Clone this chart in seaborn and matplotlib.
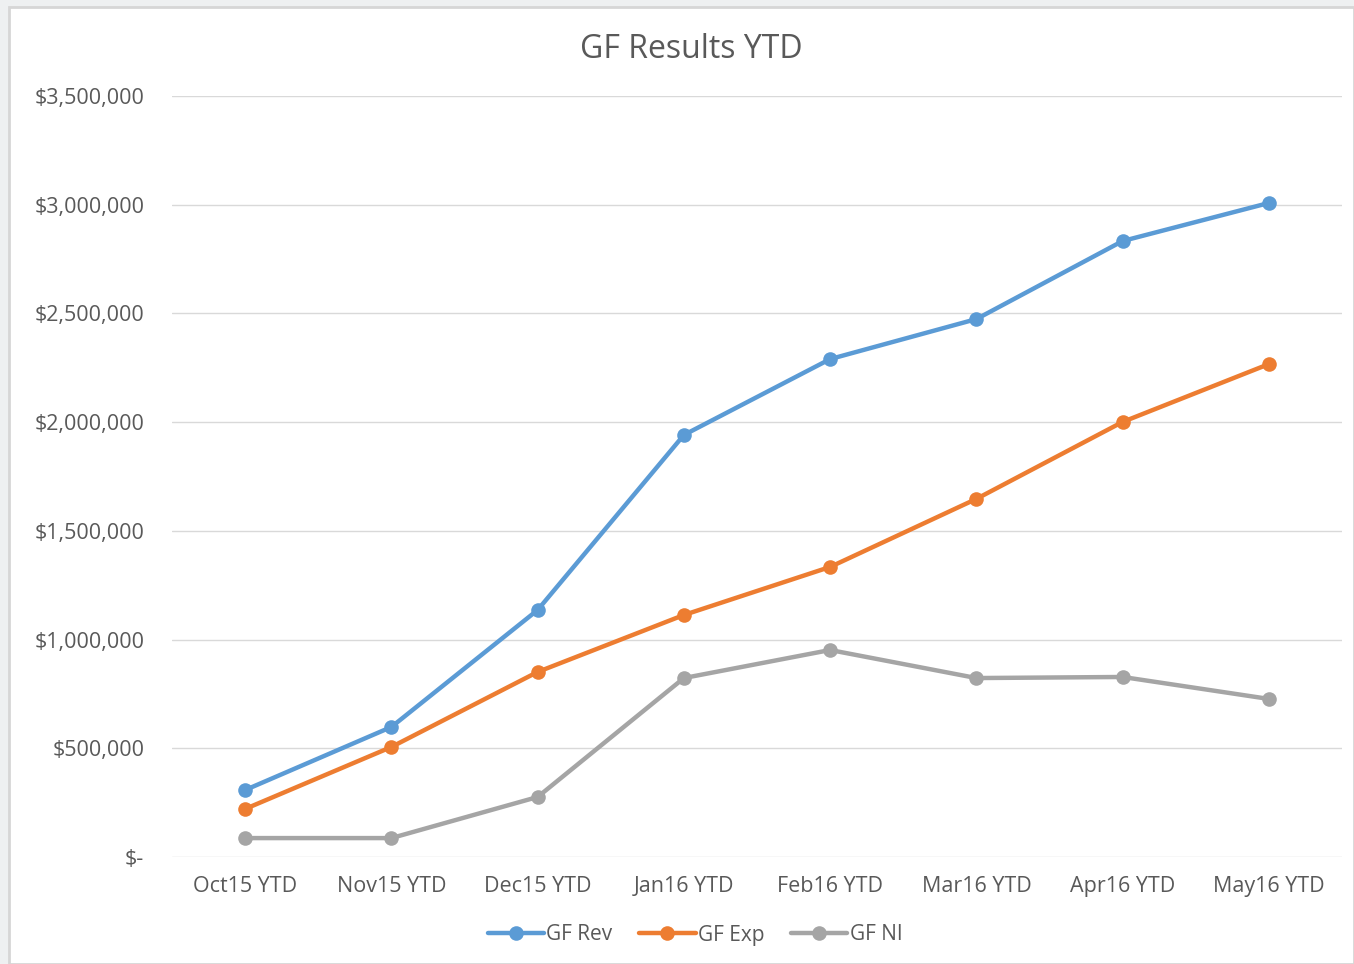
import matplotlib
matplotlib.use("Agg")
import matplotlib.pyplot as plt
import matplotlib.patches as mpatches
import matplotlib.ticker as mticker
import seaborn as sns
import pandas as pd

categories = ["Oct15 YTD", "Nov15 YTD", "Dec15 YTD", "Jan16 YTD",
              "Feb16 YTD", "Mar16 YTD", "Apr16 YTD", "May16 YTD"]
gf_rev = [308000, 598000, 1136000, 1941000, 2290000, 2474000, 2833000, 3008000]
gf_exp = [221000, 506000, 851000, 1113000, 1334000, 1647000, 2001000, 2267000]
gf_ni = [87000, 87000, 276000, 823000, 952000, 823000, 828000, 727000]
series_names = ["GF Rev", "GF Exp", "GF NI"]
colors = ["#5B9BD5", "#ED7D31", "#A5A5A5"]

rows = []
for name, vals in zip(series_names, [gf_rev, gf_exp, gf_ni]):
    for i, (c, v) in enumerate(zip(categories, vals)):
        rows.append({"x": i, "cat": c, "value": v, "series": name})
df = pd.DataFrame(rows)

sns.set_theme(style="white")
plt.rcParams["font.family"] = ["Open Sans", "DejaVu Sans"]
text_color = "#595959"

fig = plt.figure(figsize=(13.54, 9.64), dpi=100)
fig.patch.set_facecolor("#EEF0F1")
bg = mpatches.Rectangle((9 / 1354, 0), 1 - 9 / 1354, 1 - 7 / 964,
                        transform=fig.transFigure, facecolor="white",
                        edgecolor="#D6D6D6", linewidth=2, zorder=-10)
fig.patches.append(bg)

ax = fig.add_axes([172 / 1354, 1 - 857 / 964, (1342 - 172) / 1354, (857 - 96) / 964])
ax.set_facecolor("none")
ax.set_zorder(5)

sns.lineplot(data=df, x="x", y="value", hue="series", palette=colors,
             marker="o", markersize=10.5, markeredgewidth=0, linewidth=3.2,
             ax=ax, legend=False)

ax.set_xlim(-0.5, len(categories) - 0.5)
ax.set_ylim(0, 3500000)
ax.set_xticks(range(len(categories)))
ax.set_xticklabels(categories)
ax.yaxis.set_major_locator(mticker.MultipleLocator(500000))
ax.yaxis.set_major_formatter(mticker.FuncFormatter(
    lambda v, p: "$-" if v == 0 else f"${v:,.0f}"))
ax.grid(axis="y", color="#D9D9D9", linewidth=1)
ax.set_axisbelow(True)
for s in ax.spines.values():
    s.set_visible(False)
ax.tick_params(axis="both", length=0, labelsize=15.5, colors=text_color)
ax.tick_params(axis="x", pad=14)
ax.tick_params(axis="y", pad=20)
ax.set_xlabel("")
ax.set_ylabel("")

fig.text(691 / 1354, 1 - 50 / 964, "GF Results YTD", ha="center", va="center",
         fontsize=23, color=text_color)

handles = [plt.Line2D([], [], color=c, marker="o", markersize=10.5,
                      markeredgewidth=0, linewidth=3.2) for c in colors]
fig.legend(handles, series_names, loc="center", bbox_to_anchor=(695 / 1354, 1 - 935 / 964),
           ncol=3, frameon=False, fontsize=15, handlelength=2.7,
           handletextpad=0.1, columnspacing=1.3, labelcolor=text_color)

fig.savefig("out.png", dpi=100, facecolor=fig.get_facecolor())
